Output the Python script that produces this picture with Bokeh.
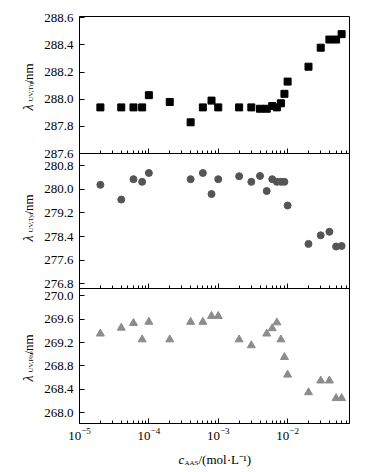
import math
from bokeh.plotting import figure
from bokeh.layouts import column, row
from bokeh.models import (Range1d, FixedTicker, NumeralTickFormatter, Label, LogTicker,
                          CustomJSTickFormatter)
from bokeh.embed import file_html
from bokeh.resources import INLINE

# ---- data ----
x_trp = [2e-5, 4e-5, 6e-5, 8e-5, 1e-4, 2e-4, 4e-4, 6e-4, 8e-4, 1e-3, 2e-3, 3e-3,
         4e-3, 5e-3, 6e-3, 7e-3, 8e-3, 9e-3, 1e-2, 2e-2, 3e-2, 4e-2, 5e-2, 6e-2]
y_trp = [287.94, 287.94, 287.94, 287.94, 288.03, 287.98, 287.83, 287.94, 287.99, 287.94,
         287.94, 287.94, 287.93, 287.93, 287.95, 287.94, 287.97, 288.04, 288.13, 288.24,
         288.38, 288.44, 288.44, 288.48]

x_tyr = [2e-5, 4e-5, 6e-5, 8e-5, 1e-4, 4e-4, 6e-4, 8e-4, 1e-3, 2e-3, 3e-3, 4e-3,
         5e-3, 6e-3, 7e-3, 8e-3, 9e-3, 1e-2, 2e-2, 3e-2, 4e-2, 5e-2, 6e-2]
y_tyr = [280.15, 279.65, 280.34, 280.25, 280.55, 280.34, 280.55, 279.84, 280.34, 280.44,
         280.25, 280.45, 279.94, 280.34, 280.25, 280.25, 280.25, 279.45, 278.15, 278.44,
         278.56, 278.06, 278.08]

x_phe = [2e-5, 4e-5, 6e-5, 8e-5, 1e-4, 2e-4, 4e-4, 6e-4, 8e-4, 1e-3, 2e-3, 3e-3,
         5e-3, 6e-3, 7e-3, 8e-3, 9e-3, 1e-2, 2e-2, 3e-2, 4e-2, 5e-2, 6e-2]
y_phe = [269.35, 269.45, 269.53, 269.25, 269.55, 269.25, 269.55, 269.55, 269.65, 269.65,
         269.25, 269.15, 269.35, 269.44, 269.54, 269.25, 268.95, 268.65, 268.35, 268.55,
         268.55, 268.25, 268.25]

ticks_trp = [287.6, 287.8, 288.0, 288.2, 288.4, 288.6]
ticks_tyr = [276.8, 277.6, 278.4, 279.2, 280.0, 280.8]
ticks_phe = [268.0, 268.4, 268.8, 269.2, 269.6, 270.0]

FONT = "Liberation Serif"
x_range = Range1d(1.0e-5, 0.078)
LAB_W = 36
PLOTS_H = 449


def make_fig(yr, ticks, frame_h, top, bottom, show_x, margin=None):
    p = figure(x_axis_type="log", x_range=x_range, y_range=Range1d(*yr),
               frame_width=270, frame_height=frame_h,
               min_border_left=79 - LAB_W, min_border_right=25,
               min_border_top=top, min_border_bottom=bottom,
               output_backend="svg", toolbar_location=None)
    if margin is not None:
        p.margin = margin
    p.grid.visible = False
    p.outline_line_color = "black"
    p.outline_line_width = 1
    p.background_fill_color = "white"
    p.border_fill_color = None
    # y axis
    ya = p.yaxis[0]
    ya.ticker = FixedTicker(ticks=ticks)
    ya.formatter = NumeralTickFormatter(format="0.0")
    ya.major_tick_in = 5
    ya.major_tick_out = 0
    ya.minor_tick_in = 0
    ya.minor_tick_out = 0
    ya.major_label_text_font = FONT
    ya.major_label_text_font_size = "13px"
    ya.major_label_text_color = "black"
    ya.major_label_standoff = 6
    ya.axis_line_color = "black"
    ya.major_tick_line_color = "black"
    # x axis
    xa = p.xaxis[0]
    xa.ticker = LogTicker(num_minor_ticks=10)
    xa.major_tick_in = 5
    xa.major_tick_out = 0
    xa.minor_tick_in = 3
    xa.minor_tick_out = 0
    xa.axis_line_color = "black"
    xa.major_tick_line_color = "black"
    xa.minor_tick_line_color = "black"
    if show_x:
        xa.major_label_text_font = FONT
        xa.major_label_text_font_size = "13px"
        xa.major_label_text_color = "black"
        xa.major_label_standoff = 4
    else:
        xa.formatter = CustomJSTickFormatter(code="return ''")
        xa.major_label_text_font_size = "0px"
        xa.major_label_standoff = 0
    return p


def label_fig(width, height):
    # y measured downward from the top of the strip
    f = figure(frame_width=width, frame_height=height,
               x_range=Range1d(0, width), y_range=Range1d(height, 0),
               min_border=0, x_axis_location=None, y_axis_location=None,
               output_backend="svg", toolbar_location=None)
    f.grid.visible = False
    f.outline_line_color = None
    f.background_fill_color = None
    f.border_fill_color = None
    return f


def add_ylabel(f, sub, y0):
    # y0: page y of the lower end of the rotated label
    bx = 28
    f.add_layout(Label(x=bx, y=y0, text="λ",
                       angle=math.pi / 2, text_font=FONT, text_font_size="14px",
                       text_font_style="italic", text_color="black",
                       text_baseline="alphabetic", text_align="left"))
    f.add_layout(Label(x=bx + 2, y=y0 - 9, text=sub,
                       angle=math.pi / 2, text_font=FONT, text_font_size="7px",
                       text_color="black", text_baseline="alphabetic", text_align="left"))
    f.add_layout(Label(x=bx, y=y0 - 27, text="/nm",
                       angle=math.pi / 2, text_font=FONT, text_font_size="13px",
                       text_color="black", text_baseline="alphabetic", text_align="left"))


p1 = make_fig((287.6, 288.61), ticks_trp, 137, 16, 8, False, margin=(0, 0, -8, 0))
p1.scatter(x_trp, y_trp, marker="square", size=7, color="black")

p2 = make_fig((276.64, 281.21), ticks_tyr, 135, 0, 8, False, margin=(0, 0, -8, 0))
p2.scatter(x_tyr, y_tyr, marker="circle", size=7, color="#555555")

p3 = make_fig((267.82, 270.12), ticks_phe, 135, 0, 26, True)
p3.scatter(x_phe, y_phe, marker="triangle", size=8, color="#8c8c8c")

ylab = label_fig(LAB_W, PLOTS_H)
add_ylabel(ylab, "UV,Trp", 110)
add_ylabel(ylab, "UV,Tyr", 241)
add_ylabel(ylab, "UV,Phe", 381)

# x label strip
xl = label_fig(374, 23)
xl.add_layout(Label(x=178, y=10, text="c",
                    text_font=FONT, text_font_size="13px", text_font_style="italic",
                    text_color="black", text_baseline="alphabetic"))
xl.add_layout(Label(x=184, y=13, text="AAS",
                    text_font=FONT, text_font_size="7px", text_color="black",
                    text_baseline="alphabetic"))
xl.add_layout(Label(x=198, y=10, text="/(mol·L⁻¹)",
                    text_font=FONT, text_font_size="13px", text_color="black",
                    text_baseline="alphabetic"))

plots = column(p1, p2, p3, spacing=0)
layout = column(row(ylab, plots, spacing=0), xl, spacing=0)
open("out.html", "w").write(file_html(layout, INLINE))
